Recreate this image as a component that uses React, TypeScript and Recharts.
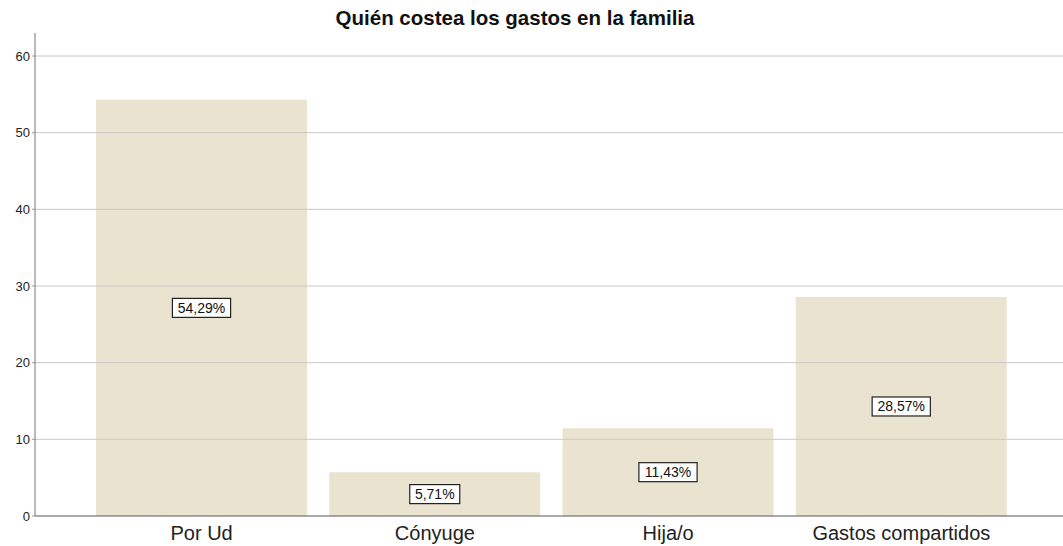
import { BarChart, Bar, XAxis, YAxis, ReferenceLine, LabelList } from 'recharts';

const categories = ['Por Ud', 'Cónyuge', 'Hija/o', 'Gastos compartidos'];
const percents = [54.29, 5.71, 11.43, 28.57];
const yTicks = [0, 10, 20, 30, 40, 50, 60];

const data = categories.map((c, i) => ({ name: c, value: percents[i] }));

const fmt = (v: number) => v.toFixed(2).replace('.', ',') + '%';

function BoxLabel(props: any) {
  const { x, y, width, height, value } = props;
  const text = fmt(Number(value));
  const w = text.length * 8.2 + 9;
  const h = 19;
  const cx = x + width / 2;
  const cy = y + height / 2;
  return (
    <g>
      <rect x={cx - w / 2} y={cy - h / 2} width={w} height={h} fill="#fff" stroke="#222" strokeWidth={1.2} />
      <text x={cx} y={cy + 5} textAnchor="middle" fontSize={14} fill="#111" fontFamily="Liberation Sans, Arial, sans-serif">
        {text}
      </text>
    </g>
  );
}

export default function App() {
  return (
    <div style={{ position: 'absolute', left: 0, top: 0, width: 1063, height: 546, background: '#fff', fontFamily: 'Liberation Sans, Arial, sans-serif' }}>
      <div style={{ position: 'absolute', top: 6, left: 0, width: 1030, textAlign: 'center', fontSize: 20.5, lineHeight: '24px', fontWeight: 'bold', color: '#111' }}>
        Quién costea los gastos en la familia
      </div>
      <BarChart width={1063} height={546} data={data} margin={{ top: 33, right: 0, bottom: 0, left: 0 }} barCategoryGap={11}>
        {/* grid lines only at the tick values */}
        {yTicks.slice(1).map((t) => (
          <ReferenceLine key={t} y={t} stroke="#c8c8c8" />
        ))}
        <XAxis
          dataKey="name"
          height={30}
          padding={{ left: 50, right: 45 }}
          tickLine={false}
          axisLine={{ stroke: '#555' }}
          tick={{ fontSize: 20, fill: '#222', dy: 2 }}
        />
        <YAxis
          width={35}
          domain={[0, 63]}
          ticks={yTicks}
          allowDataOverflow
          tickSize={3}
          tickLine={{ stroke: '#999' }}
          axisLine={{ stroke: '#777' }}
          tick={{ fontSize: 13, fill: '#222' }}
        />
        <Bar dataKey="value" fill="#EAE3CF" isAnimationActive={false}>
          <LabelList dataKey="value" content={BoxLabel} />
        </Bar>
      </BarChart>
    </div>
  );
}
